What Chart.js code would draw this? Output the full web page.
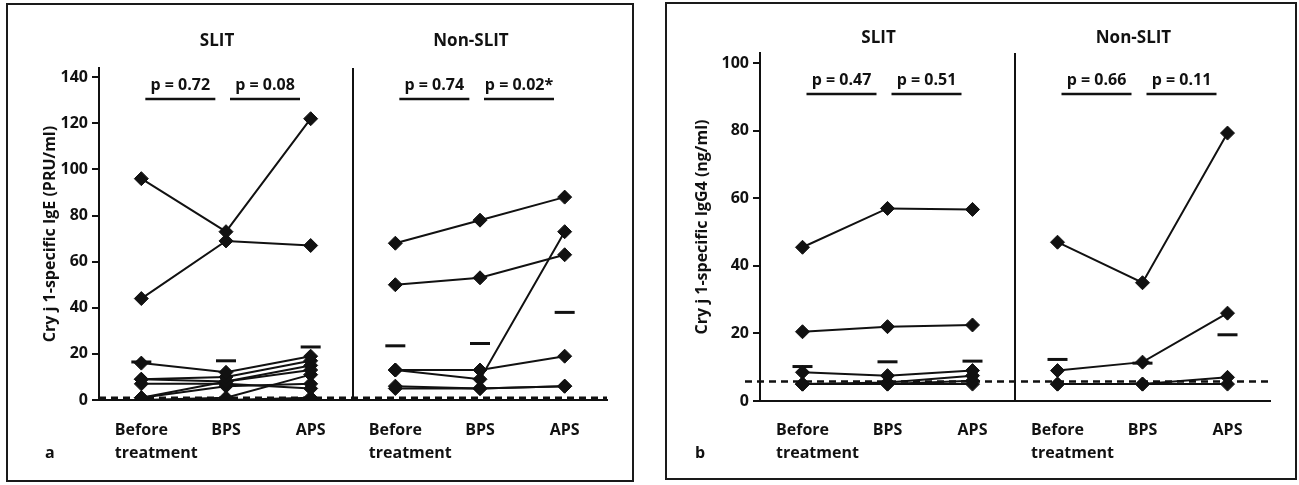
<!DOCTYPE html>
<html>
<head>
<meta charset="utf-8">
<script src="https://cdn.jsdelivr.net/npm/chart.js@4.4.1/dist/chart.umd.min.js"></script>
<style>
  html, body { margin: 0; padding: 0; background: #fff; }
  body { width: 1299px; height: 485px; position: relative; overflow: hidden; }
  .panel { position: absolute; border: 2px solid #1a1a1a; box-sizing: border-box; }
  #panelA { left: 6px; top: 3px; width: 628px; height: 479px; }
  #panelB { left: 665px; top: 2px; width: 632px; height: 478px; }
  canvas { display: block; }
</style>
</head>
<body>
<div class="panel" id="panelA"><canvas id="igeChart" width="624" height="475"></canvas></div>
<div class="panel" id="panelB"><canvas id="igg4Chart" width="628" height="474"></canvas></div>
<script>
document.addEventListener('DOMContentLoaded', () => {

    // --- Data ---
    const timepoints = [['Before', 'treatment'], ['BPS'], ['APS']];
    const groups = ['SLIT', 'Non-SLIT'];

    // panel a: Cry j 1-specific IgE (PRU/ml), one row per patient (Before, BPS, APS)
    const igeSlit = [
        [96, 73, 122],
        [44, 69, 67],
        [16, 12, 19],
        [9, 10, 17],
        [9, 8, 13],
        [7, 7, 5],
        [1, 8, 15],
        [0, 1, 11],
        [0, 0, 1],
        [1, 6, 7]
    ];
    const igeNonSlit = [
        [68, 78, 88],
        [50, 53, 63],
        [13, 13, 19],
        [13, 9, 73],
        [6, 5, 6],
        [5, 5, 6]
    ];
    const igeMeans = [16.5, 17, 23, 23.5, 24.5, 38];
    const igePValues = ['p = 0.72', 'p = 0.08', 'p = 0.74', 'p = 0.02*'];
    const igeTicks = [0, 20, 40, 60, 80, 100, 120, 140];
    const igeLimit = 1;

    // panel b: Cry j 1-specific IgG4 (ng/ml)
    const igg4Slit = [
        [45.5, 57, 56.7],
        [20.5, 22, 22.5],
        [8.5, 7.5, 9],
        [5, 5.5, 7.5],
        [5, 5, 6],
        [5, 5, 5]
    ];
    const igg4NonSlit = [
        [47, 35, 79.3],
        [9, 11.5, 26],
        [5, 5, 7],
        [5, 5, 5]
    ];
    const igg4Means = [10.2, 11.6, 11.8, 12.3, 11.2, 19.6];
    const igg4PValues = ['p = 0.47', 'p = 0.51', 'p = 0.66', 'p = 0.11'];
    const igg4Ticks = [0, 20, 40, 60, 80, 100];
    const igg4Limit = 5.8;

    const FONT = "'Open Sans', 'DejaVu Sans', sans-serif";
    const INK = '#111';
    const categories = [0, 1, 2, 3, 4, 5].map(i => timepoints[i % 3].join(' ') + ' ' + groups[Math.floor(i / 3)]);

    // --- Helpers ---
    function patientDatasets(rows, offset) {
        return rows.map(row => {
            const data = [null, null, null, null, null, null];
            row.forEach((v, i) => { data[offset + i] = v; });
            return {
                type: 'line',
                data: data,
                borderColor: INK,
                backgroundColor: INK,
                borderWidth: 2,
                pointStyle: 'rectRot',
                pointRadius: 7,
                pointBorderWidth: 1,
                spanGaps: false
            };
        });
    }

    function meanDataset(means) {
        return {
            type: 'line',
            data: means,
            showLine: false,
            borderColor: INK,
            backgroundColor: INK,
            pointStyle: 'line',
            pointRadius: 10,
            pointBorderWidth: 3
        };
    }

    const font = (size) => ({ family: FONT, size: size, weight: 'bold' });

    // --- Decorations: divider, group titles, p values, x labels, limit line ---
    const panelDecor = {
        id: 'panelDecor',
        beforeDatasetsDraw(chart, args, opts) {
            const { ctx, chartArea, scales: { x, y } } = chart;
            const yy = y.getPixelForValue(opts.limit);
            ctx.save();
            ctx.strokeStyle = INK;
            ctx.lineWidth = 2.5;
            ctx.setLineDash([7, 5]);
            ctx.beginPath();
            ctx.moveTo(chartArea.left + opts.limitStart, yy);
            ctx.lineTo(chartArea.right, yy);
            ctx.stroke();
            ctx.setLineDash([]);
            const xd = (x.getPixelForTick(2) + x.getPixelForTick(3)) / 2;
            ctx.lineWidth = 2;
            ctx.beginPath();
            ctx.moveTo(xd, chartArea.top);
            ctx.lineTo(xd, chartArea.bottom);
            ctx.stroke();
            ctx.restore();
        },
        afterDraw(chart, args, opts) {
            const { ctx, scales: { x } } = chart;
            ctx.save();
            ctx.fillStyle = INK;
            ctx.strokeStyle = INK;
            ctx.textBaseline = 'middle';

            // group titles
            ctx.font = 'bold 17px ' + FONT;
            ctx.textAlign = 'center';
            groups.forEach((g, k) => {
                ctx.fillText(g, x.getPixelForTick(1 + 3 * k) - 9, opts.titleY);
            });

            // p values with underline
            ctx.font = 'bold 16px ' + FONT;
            opts.pValues.forEach((p, k) => {
                const i = k < 2 ? k : k + 1;
                const start = x.getPixelForTick(i) + 4;
                const end = start + 70;
                ctx.fillText(p, (start + end) / 2, opts.pY);
                ctx.lineWidth = 2.5;
                ctx.beginPath();
                ctx.moveTo(start, opts.lineY);
                ctx.lineTo(end, opts.lineY);
                ctx.stroke();
            });

            // x labels
            for (let i = 0; i < 6; i++) {
                const lines = timepoints[i % 3];
                const px = x.getPixelForTick(i);
                ctx.textAlign = 'center';
                ctx.fillText(lines[0], px, opts.labelY);
                if (lines.length > 1) {
                    const left = px - ctx.measureText(lines[0]).width / 2;
                    ctx.textAlign = 'left';
                    ctx.fillText(lines[1], left, opts.labelY + 23);
                }
            }

            // panel letter
            ctx.textAlign = 'left';
            ctx.fillText(opts.letter, opts.letterX, opts.labelY + 23);
            ctx.restore();
        }
    };

    // --- Chart creation ---
    function createPanel(canvasId, cfg) {
        const ctx = document.getElementById(canvasId).getContext('2d');
        new Chart(ctx, {
            data: {
                labels: categories,
                datasets: [
                    ...patientDatasets(cfg.slit, 0),
                    ...patientDatasets(cfg.nonSlit, 3),
                    meanDataset(cfg.means)
                ]
            },
            options: {
                responsive: false,
                animation: false,
                events: [],
                layout: { padding: cfg.padding },
                scales: {
                    x: {
                        type: 'category',
                        offset: true,
                        grid: { display: false },
                        border: { display: true, color: INK, width: 2 },
                        ticks: { display: false }
                    },
                    y: {
                        min: 0,
                        max: cfg.max,
                        afterBuildTicks: s => { s.ticks = cfg.ticks.map(v => ({ value: v })); },
                        afterFit: s => { s.width = cfg.axisWidth; },
                        grid: { drawOnChartArea: false, drawTicks: true, tickLength: 7, color: INK, lineWidth: 2 },
                        border: { display: true, color: INK, width: 2 },
                        ticks: { color: INK, padding: 4, font: font(16) },
                        title: {
                            display: true,
                            text: cfg.yTitle,
                            color: INK,
                            font: font(16),
                            padding: { top: cfg.titlePad, bottom: 0 }
                        }
                    }
                },
                plugins: {
                    legend: { display: false },
                    tooltip: { enabled: false },
                    panelDecor: cfg.decor
                }
            },
            plugins: [panelDecor]
        });
    }

    createPanel('igeChart', {
        slit: igeSlit,
        nonSlit: igeNonSlit,
        means: igeMeans,
        ticks: igeTicks,
        max: 144,
        axisWidth: 91,
        titlePad: 33,
        yTitle: 'Cry j 1-specific IgE (PRU/ml)',
        padding: { top: 63, right: 25, bottom: 72, left: 0 },
        decor: { limit: igeLimit, limitStart: 0, pValues: igePValues, letter: 'a', letterX: 37,
                 titleY: 36, pY: 80, lineY: 94, labelY: 425 }
    });

    createPanel('igg4Chart', {
        slit: igg4Slit,
        nonSlit: igg4NonSlit,
        means: igg4Means,
        ticks: igg4Ticks,
        max: 103,
        axisWidth: 93,
        titlePad: 26,
        yTitle: 'Cry j 1-specific IgG4 (ng/ml)',
        padding: { top: 49, right: 25, bottom: 69, left: 0 },
        decor: { limit: igg4Limit, limitStart: -15, pValues: igg4PValues, letter: 'b', letterX: 28,
                 titleY: 34, pY: 76, lineY: 90, labelY: 426 }
    });
});
</script>
</body>
</html>
